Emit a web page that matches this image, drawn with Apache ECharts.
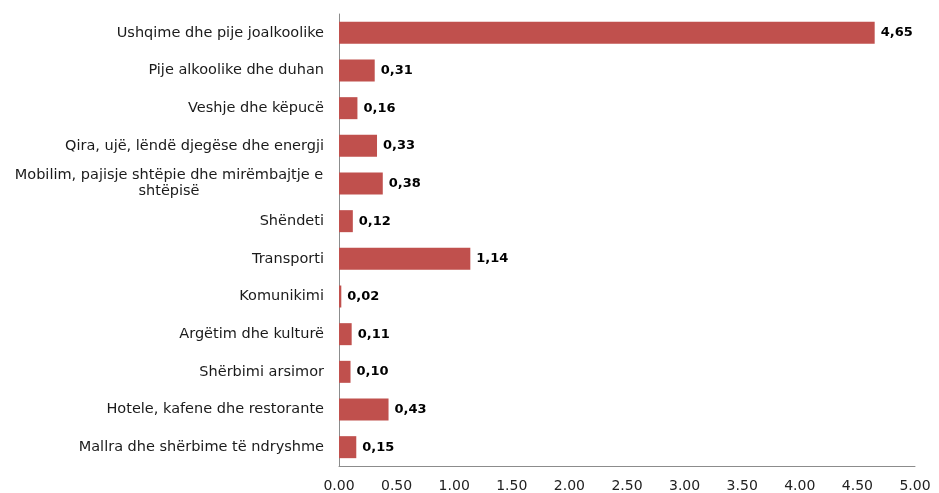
<!DOCTYPE html>
<html>
<head>
<meta charset="utf-8">
<script src="https://cdn.jsdelivr.net/npm/echarts@6/dist/echarts.min.js"></script>
<style>
  html, body { margin: 0; padding: 0; background: #fff; }
  #chart { width: 939px; height: 493px; }
</style>
</head>
<body>
<div id="chart"></div>
<script>
const kategorite = [
  'Ushqime dhe pije joalkoolike',
  'Pije alkoolike dhe duhan',
  'Veshje dhe këpucë',
  'Qira, ujë, lëndë djegëse dhe energji',
  'Mobilim, pajisje shtëpie dhe mirëmbajtje e shtëpisë',
  'Shëndeti',
  'Transporti',
  'Komunikimi',
  'Argëtim dhe kulturë',
  'Shërbimi arsimor',
  'Hotele, kafene dhe restorante',
  'Mallra dhe shërbime të ndryshme'
];
const vlerat = [4.65, 0.31, 0.16, 0.33, 0.38, 0.12, 1.14, 0.02, 0.11, 0.10, 0.43, 0.15];

const chart = echarts.init(document.getElementById('chart'));

chart.setOption({
  animation: false,
  textStyle: { fontFamily: 'DejaVu Sans, sans-serif' },
  grid: { left: 339, right: 24, top: 14, bottom: 26, containLabel: false },
  xAxis: {
    type: 'value',
    min: 0,
    max: 5,
    interval: 0.5,
    axisLine: { show: true, lineStyle: { color: '#8c8c8c' } },
    axisTick: { show: false },
    splitLine: { show: false },
    axisLabel: {
      color: '#222',
      fontSize: 14,
      margin: 13,
      formatter: v => v.toFixed(2)
    }
  },
  yAxis: {
    type: 'category',
    inverse: true,
    data: kategorite,
    axisLine: { show: true, lineStyle: { color: '#8c8c8c' } },
    axisTick: { show: false },
    axisLabel: {
      color: '#1a1a1a',
      fontSize: 14.5,
      margin: 15,
      formatter: v => v.startsWith('Mobilim')
        ? '{c|Mobilim, pajisje shtëpie dhe mirëmbajtje e}\n{c|shtëpisë}'
        : v,
      rich: {
        c: { width: 310, align: 'center', fontSize: 14.5, color: '#1a1a1a', lineHeight: 16 }
      }
    }
  },
  series: [{
    type: 'bar',
    data: vlerat,
    barWidth: 22,
    itemStyle: { color: '#c0504d' },
    label: {
      show: true,
      position: 'right',
      distance: 6,
      color: '#000',
      fontSize: 13,
      fontWeight: 'bold',
      formatter: p => p.value.toFixed(2).replace('.', ',')
    }
  }]
});
</script>
</body>
</html>
